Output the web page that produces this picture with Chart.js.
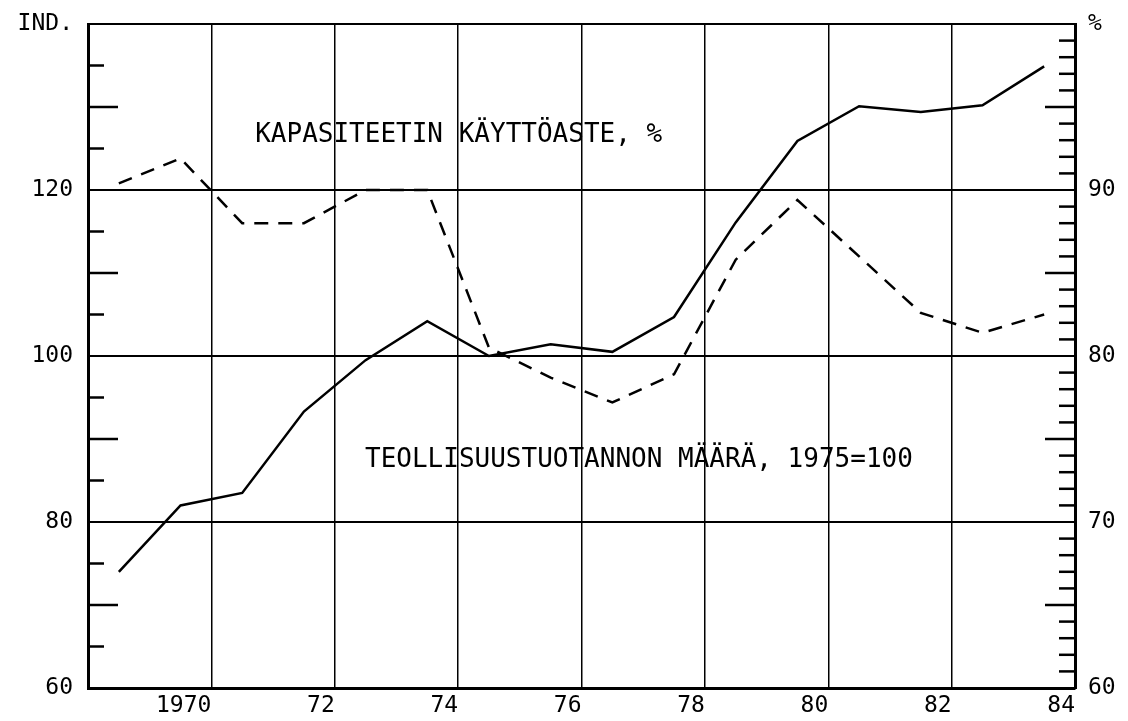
<!DOCTYPE html>
<html lang="fi">
<head>
  <meta charset="UTF-8">
  <title>Teollisuustuotanto ja kapasiteetin käyttöaste</title>
  <script src="https://cdn.jsdelivr.net/npm/chart.js"></script>
  <style>
    body { margin: 0; background: #fff; }
    #wrap { width: 1128px; height: 721px; }
  </style>
</head>
<body>
  <div id="wrap"><canvas id="chart"></canvas></div>

  <script>
    // vuodet 1969-1984
    const years = [1969, 1970, 1971, 1972, 1973, 1974, 1975, 1976, 1977, 1978, 1979, 1980, 1981, 1982, 1983, 1984];
    // teollisuustuotannon määrä, 1975=100 (vasen asteikko)
    const production = [74.0, 82.0, 83.5, 93.3, 99.5, 104.2, 100.0, 101.4, 100.5, 104.7, 116.1, 125.9, 130.1, 129.4, 130.2, 134.9];
    // kapasiteetin käyttöaste, % (oikea asteikko)
    const utilization = [90.4, 91.9, 88.0, 88.0, 90.0, 90.0, 80.5, 78.7, 77.2, 78.9, 85.8, 89.4, 86.0, 82.6, 81.4, 82.5];

    const labelTop = 'KAPASITEETIN KÄYTTÖASTE, %';
    const labelBottom = 'TEOLLISUUSTUOTANNON MÄÄRÄ, 1975=100';

    const toPoints = vals => vals.map((v, i) => ({ x: years[i] + 0.5, y: v }));

    Chart.defaults.font.family = 'DejaVu Sans Mono';
    Chart.defaults.color = '#000';

    // sisäänpäin osoittavat asteikkoviivat
    const innerTicks = {
      id: 'innerTicks',
      afterDatasetsDraw(chart) {
        const { ctx, chartArea: a, scales: { y, y2 } } = chart;
        ctx.save();
        ctx.strokeStyle = '#000';
        ctx.lineWidth = 2.5;
        const line = (x1, y1, x2) => { ctx.beginPath(); ctx.moveTo(x1, y1); ctx.lineTo(x2, y1); ctx.stroke(); };
        for (let v = 65; v < 140; v += 5) {
          if (v % 20 === 0) continue;
          const len = v % 10 === 0 ? 30 : 16;
          line(a.left, y.getPixelForValue(v), a.left + len);
        }
        for (let v = 61; v < 100; v++) {
          if (v % 10 === 0) continue;
          const len = v % 5 === 0 ? 30 : 16;
          line(a.right - len, y2.getPixelForValue(v), a.right);
        }
        ctx.restore();
      }
    };

    const texts = {
      id: 'texts',
      afterDraw(chart) {
        const { ctx, scales: { x, y } } = chart;
        ctx.save();
        ctx.fillStyle = '#000';
        ctx.font = '26px "DejaVu Sans Mono"';
        ctx.textBaseline = 'middle';
        ctx.textAlign = 'left';
        ctx.fillText(labelTop, x.getPixelForValue(1971.71), y.getPixelForValue(126.6));
        ctx.fillText(labelBottom, x.getPixelForValue(1973.49), y.getPixelForValue(87.5));
        ctx.restore();
      }
    };

    const fitY = w => s => { s.width = w; s.paddingTop = 0; s.paddingBottom = 0; };

    new Chart(document.getElementById('chart'), {
      type: 'line',
      data: {
        datasets: [
          {
            label: labelBottom,
            data: toPoints(production),
            yAxisID: 'y',
            borderColor: '#000',
            borderWidth: 2.5,
            pointRadius: 0,
            tension: 0
          },
          {
            label: labelTop,
            data: toPoints(utilization),
            yAxisID: 'y2',
            borderColor: '#000',
            borderWidth: 2.5,
            borderDash: [14, 10],
            pointRadius: 0,
            tension: 0
          }
        ]
      },
      options: {
        responsive: true,
        maintainAspectRatio: false,
        animation: false,
        layout: { padding: { top: 24, left: 0, right: 0, bottom: 0 } },
        plugins: { legend: { display: false }, tooltip: { enabled: false } },
        scales: {
          x: {
            type: 'linear',
            min: 1969,
            max: 1985,
            afterFit: s => { s.height = 33; s.paddingLeft = 0; s.paddingRight = 0; },
            grid: { color: '#000', lineWidth: 1.5, drawTicks: false },
            border: { display: true, color: '#000', width: 3 },
            ticks: {
              stepSize: 2,
              align: 'end',
              padding: 4,
              autoSkip: false,
              maxRotation: 0,
              font: { size: 23 },
              callback: v => {
                const yr = v - 1;
                if (yr < 1970) return '';
                return yr === 1970 ? '1970' : String(yr % 100);
              }
            }
          },
          y: {
            position: 'left',
            min: 60,
            max: 140,
            afterFit: fitY(88),
            grid: { color: '#000', lineWidth: 2, drawTicks: false },
            border: { display: true, color: '#000', width: 3 },
            ticks: {
              stepSize: 20,
              padding: 15,
              font: { size: 23 },
              callback: v => v === 140 ? 'IND.' : v
            }
          },
          y2: {
            position: 'right',
            min: 60,
            max: 100,
            afterFit: fitY(53),
            grid: { display: false, drawTicks: false },
            border: { display: true, color: '#000', width: 3 },
            ticks: {
              stepSize: 10,
              padding: 13,
              font: { size: 23 },
              callback: v => v === 100 ? '%' : v
            }
          }
        }
      },
      plugins: [innerTicks, texts]
    });
  </script>
</body>
</html>
